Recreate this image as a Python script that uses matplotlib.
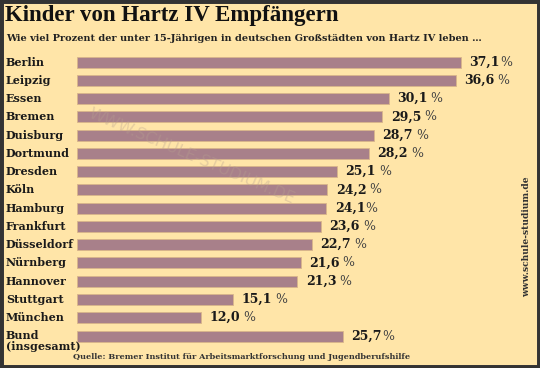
import matplotlib
matplotlib.use("Agg")
import matplotlib.pyplot as plt
from matplotlib.patches import Rectangle

cities = ["Berlin", "Leipzig", "Essen", "Bremen", "Duisburg", "Dortmund", "Dresden",
          "Köln", "Hamburg", "Frankfurt", "Düsseldorf", "Nürnberg", "Hannover",
          "Stuttgart", "München", "Bund\n(insgesamt)"]
values = [37.1, 36.6, 30.1, 29.5, 28.7, 28.2, 25.1, 24.2, 24.1, 23.6, 22.7, 21.6, 21.3,
          15.1, 12.0, 25.7]
value_labels = ["37,1", "36,6", "30,1", "29,5", "28,7", "28,2", "25,1", "24,2", "24,1",
                "23,6", "22,7", "21,6", "21,3", "15,1", "12,0", "25,7"]
pct_sep = ["", " ", " ", " ", " ", " ", " ", " ", "", " ", " ", " ", " ", " ", " ", ""]

W, H = 540, 368
BG = "#ffe5a8"
BAR = "#a8808a"
FONT = "DejaVu Serif"

fig = plt.figure(figsize=(W / 100, H / 100), dpi=100, facecolor=BG)

# border
fig.patches.append(Rectangle((0, 0), 1, 1, transform=fig.transFigure, fill=False,
                             edgecolor="#333333", linewidth=5, zorder=10))

def fx(px):
    return px / W

def fy(py):
    return 1 - py / H

x0 = 77
xmax = 40
px_per = 10.35
row_top, row_bot = 62, 336
step = (row_bot - row_top) / 15
ax_top = row_top - step / 2
ax_bot = row_bot + step / 2
ax = fig.add_axes([fx(x0), fy(ax_bot), fx(xmax * px_per), (ax_bot - ax_top) / H])
ax.set_facecolor("none")
ys = list(range(len(cities)))
ax.barh(ys, values, height=11 / step, color=BAR, edgecolor="#d8b58a", linewidth=0.6)
ax.set_xlim(0, xmax)
ax.set_ylim(len(cities) - 0.5, -0.5)
ax.axis("off")

for y, v, lab, sep in zip(ys, values, value_labels, pct_sep):
    t = ax.annotate(lab, (v, y), xytext=(6, 0), textcoords="offset points",
                    va="center", ha="left", fontsize=9, fontweight="bold",
                    family=FONT, color="#1a1a1a")
    ax.annotate(sep + "%", (1, 0.5), xycoords=t, va="center", ha="left",
                fontsize=9, family=FONT, color="#444444")

for y, c in zip(ys, cities):
    py = row_top + y * step
    if "\n" in c:
        fig.text(fx(6), fy(py - 6), c, ha="left", va="top", fontsize=8,
                 fontweight="bold", family=FONT, color="#1a1a1a", linespacing=1.0)
    else:
        fig.text(fx(6), fy(py), c, ha="left", va="center", fontsize=8,
                 fontweight="bold", family=FONT, color="#1a1a1a")

fig.text(fx(5), fy(16), "Kinder von Hartz IV Empfängern", ha="left", va="center",
         fontsize=16.5, fontweight="bold", family="Liberation Serif", color="#111111")
fig.text(fx(6), fy(38), "Wie viel Prozent der unter 15-Jährigen in deutschen Großstädten von Hartz IV leben …",
         ha="left", va="center", fontsize=7, fontweight="bold", family=FONT, color="#222222")
fig.text(fx(73), fy(357), "Quelle: Bremer Institut für Arbeitsmarktforschung und Jugendberufshilfe",
         ha="left", va="center", fontsize=5.9, fontweight="bold", family=FONT, color="#333333")
fig.text(fx(527), fy(237), "www.schule-studium.de", ha="center", va="center", rotation=90,
         fontsize=6.6, fontweight="bold", family=FONT, color="#333333")
fig.text(fx(192), fy(156), "WWW.SCHULE-STUDIUM.DE", ha="center", va="center", rotation=-23,
         fontsize=11.5, family="DejaVu Sans", color="#b8a090", alpha=0.35)

fig.savefig("out.png", dpi=100, facecolor=BG)
